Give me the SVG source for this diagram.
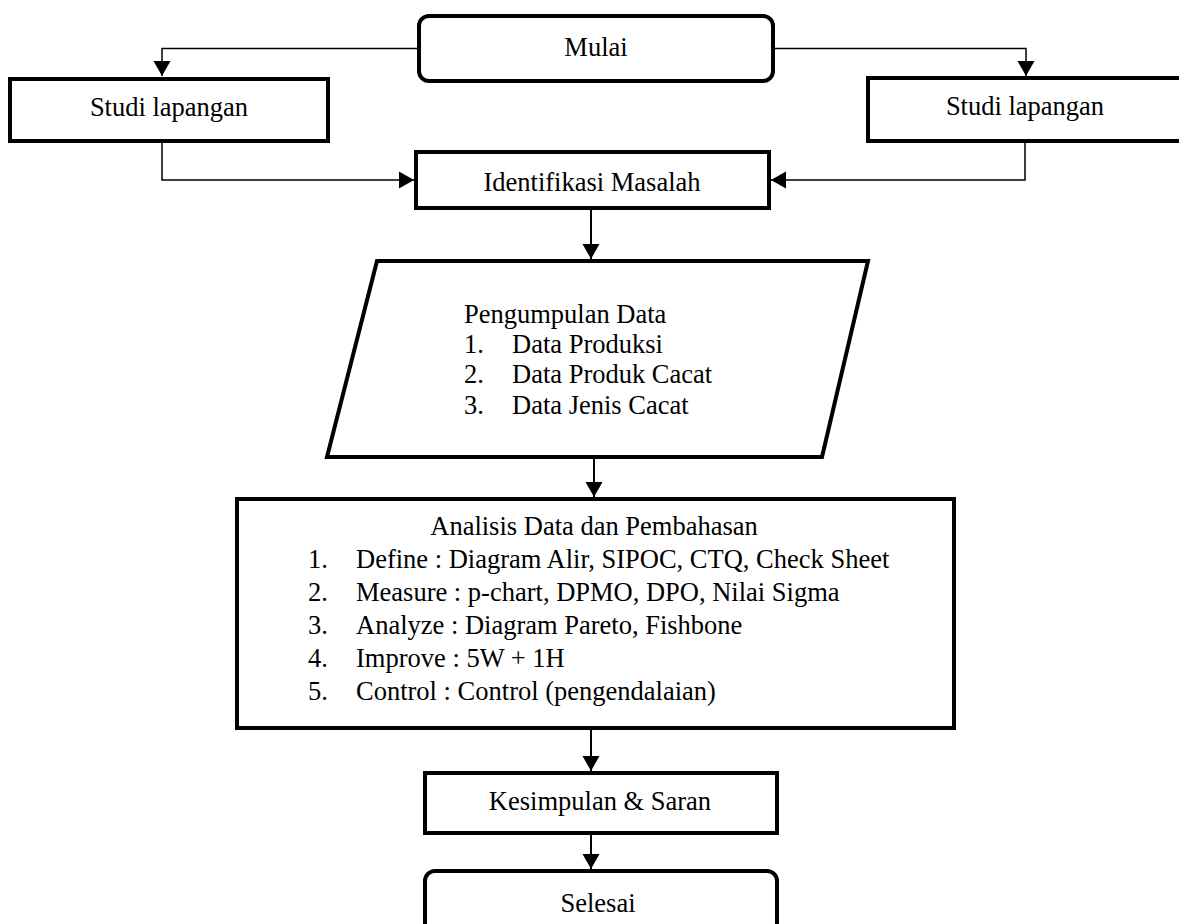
<svg xmlns="http://www.w3.org/2000/svg" width="1179" height="924" viewBox="0 0 1179 924">
<defs>
<style>
.box{fill:#fff;stroke:#000;stroke-width:4;stroke-linejoin:miter}
.t{font-family:"Liberation Serif","Times New Roman",serif;font-size:26.5px;fill:#000}
.c{text-anchor:middle}
.ln{fill:none;stroke:#000;stroke-width:1.5}
.lm{fill:none;stroke:#000;stroke-width:2}
</style>
<marker id="ah" markerUnits="userSpaceOnUse" markerWidth="18" markerHeight="18" refX="15" refY="9" orient="auto" viewBox="0 0 18 18">
<path d="M0,0.5 L15,9 L0,17.5 Z" fill="#000"/>
</marker>
</defs>
<rect width="1179" height="924" fill="#fff"/>
<g id="connectors">
<path class="ln" d="M417,48.5 H162 V76" marker-end="url(#ah)"/>
<path class="ln" d="M775,48.5 H1026 V76" marker-end="url(#ah)"/>
<path class="ln" d="M162,143 V180 H414" marker-end="url(#ah)"/>
<path class="ln" d="M1025,143 V180 H771" marker-end="url(#ah)"/>
<path class="lm" d="M591,210 V259" marker-end="url(#ah)"/>
<path class="lm" d="M594,459 V497" marker-end="url(#ah)"/>
<path class="lm" d="M591,730 V771" marker-end="url(#ah)"/>
<path class="lm" d="M591,835 V869" marker-end="url(#ah)"/>
</g>
<g id="mulai">
<rect class="box" x="419" y="16" width="354" height="65" rx="10"/>
<text class="t c" x="596" y="56">Mulai</text>
</g>
<g id="studi-kiri">
<rect class="box" x="10" y="79" width="318" height="62"/>
<text class="t c" x="169" y="116">Studi lapangan</text>
</g>
<g id="studi-kanan">
<rect class="box" x="868" y="78" width="320" height="63"/>
<text class="t c" x="1025" y="115">Studi lapangan</text>
</g>
<g id="identifikasi">
<rect class="box" x="416" y="152" width="353" height="56"/>
<text class="t c" x="592" y="191">Identifikasi Masalah</text>
</g>
<g id="pengumpulan">
<polygon class="box" points="377,261 868,261 822,457 327,457"/>
<text class="t" x="464" y="323">Pengumpulan Data</text>
<text class="t" x="464" y="353">1.</text><text class="t" x="512" y="353">Data Produksi</text>
<text class="t" x="464" y="383">2.</text><text class="t" x="512" y="383">Data Produk Cacat</text>
<text class="t" x="464" y="414">3.</text><text class="t" x="512" y="414">Data Jenis Cacat</text>
</g>
<g id="analisis">
<rect class="box" x="237" y="499" width="717" height="229"/>
<text class="t c" x="594" y="535">Analisis Data dan Pembahasan</text>
<text class="t" x="308" y="568">1.</text><text class="t" x="356" y="568">Define : Diagram Alir, SIPOC, CTQ, Check Sheet</text>
<text class="t" x="308" y="601">2.</text><text class="t" x="356" y="601">Measure : p-chart, DPMO, DPO, Nilai Sigma</text>
<text class="t" x="308" y="634">3.</text><text class="t" x="356" y="634">Analyze : Diagram Pareto, Fishbone</text>
<text class="t" x="308" y="667">4.</text><text class="t" x="356" y="667">Improve : 5W + 1H</text>
<text class="t" x="308" y="700">5.</text><text class="t" x="356" y="700">Control : Control (pengendalaian)</text>
</g>
<g id="kesimpulan">
<rect class="box" x="425" y="773" width="352" height="60"/>
<text class="t c" x="600" y="810">Kesimpulan &amp; Saran</text>
</g>
<g id="selesai">
<rect class="box" x="425" y="871" width="352" height="75" rx="10"/>
<text class="t c" x="598" y="912">Selesai</text>
</g>
</svg>
